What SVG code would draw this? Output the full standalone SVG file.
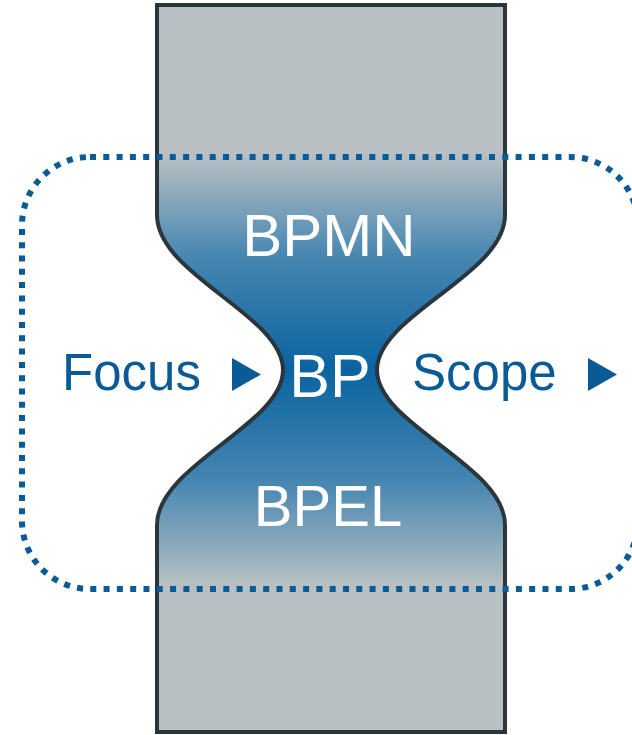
<svg xmlns="http://www.w3.org/2000/svg" width="632" height="735" viewBox="0 0 632 735">
<defs>
<linearGradient id="g" gradientUnits="userSpaceOnUse" x1="0" y1="0" x2="0" y2="735">
<stop offset="0" stop-color="#b8c0c3"/>
<stop offset="0.211" stop-color="#b8c0c3"/>
<stop offset="0.35" stop-color="#4686b1"/>
<stop offset="0.503" stop-color="#0a64a0"/>
<stop offset="0.656" stop-color="#4686b1"/>
<stop offset="0.796" stop-color="#b8c0c3"/>
<stop offset="1" stop-color="#b8c0c3"/>
</linearGradient>
<style>
.lbl{font-family:"Liberation Sans",Arial,sans-serif;fill:#ffffff;text-anchor:middle}
.side{font-family:"Liberation Sans",Arial,sans-serif;fill:#0a5a96}
.tri{fill:#0a5a96}
</style>
</defs>
<g id="hourglass">
<path d="M157,5 H505 V215 C505,275 377,315 377,370 C377,425 505,465 505,525 V732 H157 V525 C157,465 283,425 283,370 C283,315 157,275 157,215 Z" fill="url(#g)" stroke="#2b353c" stroke-width="4" stroke-linejoin="miter"/>
</g>
<g id="connectors">
<rect x="22" y="157" width="616" height="432" rx="68" ry="68" fill="none" stroke="#0a5a96" stroke-width="6" stroke-dasharray="6 7.3"/>
</g>
<g id="bpmn"><text class="lbl" x="329" y="256" font-size="60">BPMN</text></g>
<g id="bp"><text class="lbl" x="330" y="397" font-size="61">BP</text></g>
<g id="bpel"><text class="lbl" x="328" y="526" font-size="58">BPEL</text></g>
<g id="focus">
<text class="side" x="62" y="390" font-size="51">Focus</text>
<polygon class="tri" points="232,358 261,374.5 232,391"/>
</g>
<g id="scope">
<text class="side" x="412" y="390" font-size="51">Scope</text>
<polygon class="tri" points="588,358 617,374.5 588,391"/>
</g>
</svg>
